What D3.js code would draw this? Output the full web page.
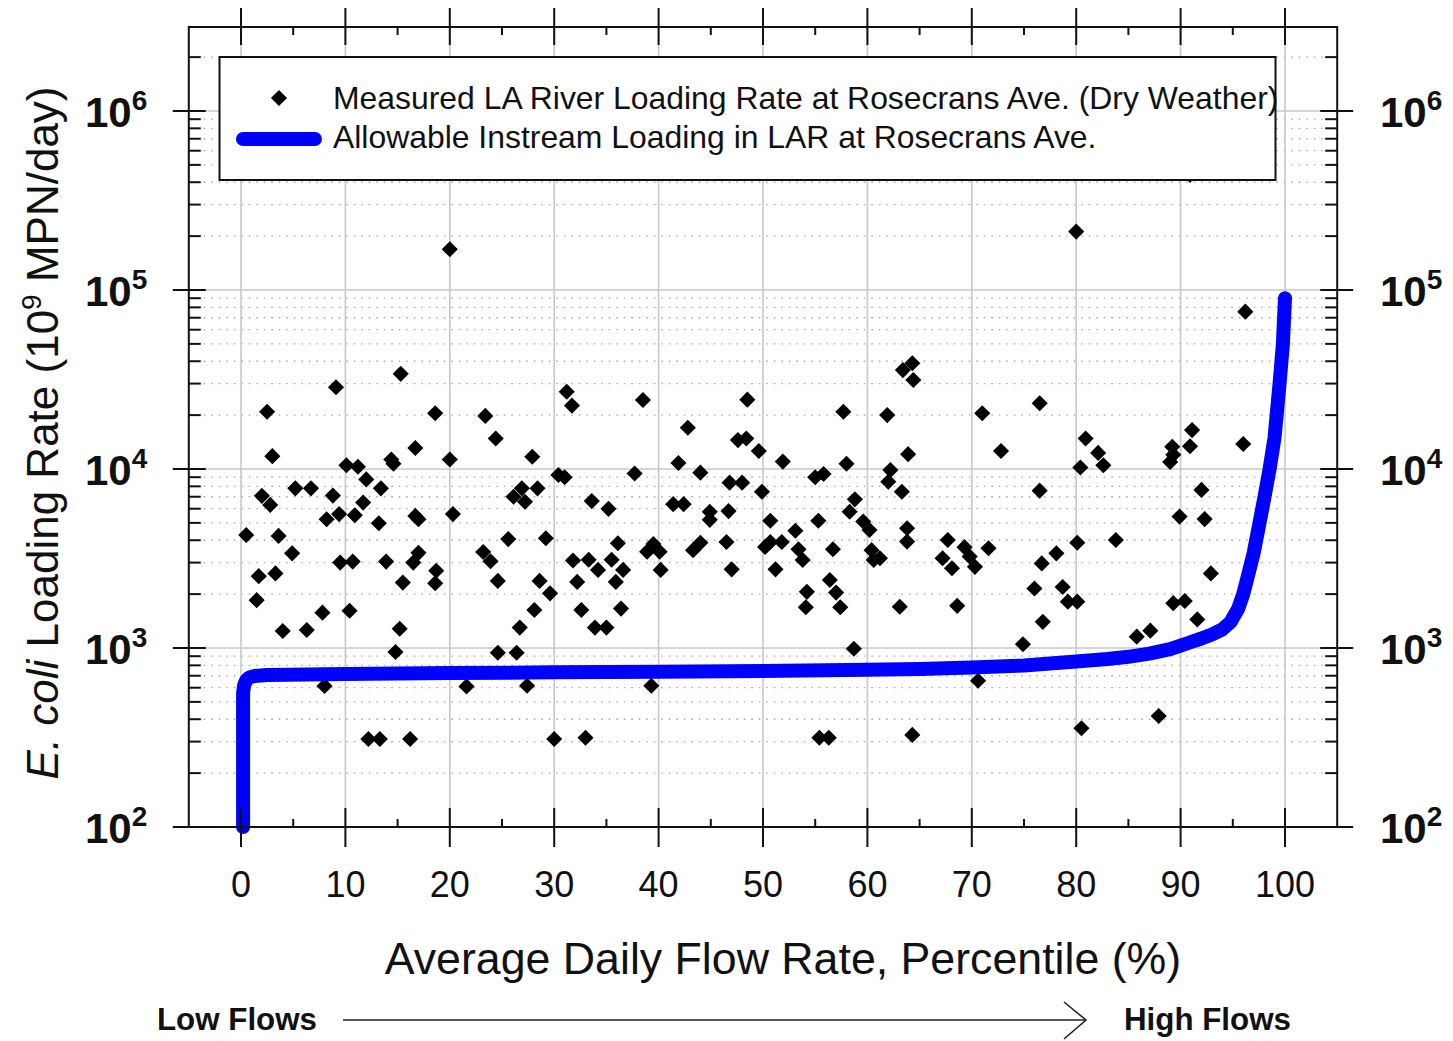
<!DOCTYPE html>
<html><head><meta charset="utf-8">
<script src="https://cdn.jsdelivr.net/npm/d3@7"></script>
<style>
body{margin:0;background:#fff}
svg{display:block}
text{font-family:"Liberation Sans",Arial,Helvetica,sans-serif;fill:#111}
</style>
</head><body>
<svg id="chart" width="1453" height="1041"></svg>
<script>
// ---------------- data ----------------
const xTickValues = [0,10,20,30,40,50,60,70,80,90,100];
const xMinorTicks = [5,15,25,35,45,55,65,75,85,95];
const yDecadeExponents = [2,3,4,5,6];

const legendLabels = [
  "Measured LA River Loading Rate at Rosecrans Ave. (Dry Weather)",
  "Allowable Instream Loading in LAR at Rosecrans Ave."
];

// measured loading (percentile, 10^9 MPN/day)
const measuredPct = [
  0.5,1.5,1.7,2.0,2.5,2.8,3.0,3.3,3.6,4.0,4.9,5.2,6.3,6.7,7.8,8.2,8.8,9.1,9.4,9.5,
  10.1,10.4,10.7,10.9,11.2,11.7,12.0,13.2,13.4,13.9,14.4,14.6,15.2,15.3,15.5,16.5,16.7,16.7,17.0,17.0,
  18.6,18.6,18.7,20.0,20.3,23.2,23.4,23.9,24.4,24.6,25.6,26.1,26.9,27.2,26.7,27.9,28.1,
  8.0,12.2,13.3,14.8,16.2,21.6,24.6,26.4,27.4,30.0,33.0,39.3,55.4,56.3,58.7,
  31.2,31.7,38.5,48.5,57.7,42.8,47.6,48.4,49.6,51.9,41.9,58.0,30.4,31.0,37.7,44.0,46.8,48.0,49.9,55.0,
  55.8,28.4,33.6,35.2,41.4,42.4,44.9,44.9,46.7,50.7,55.3,58.8,58.3,59.6,60.2,29.2,36.1,38.9,39.5,40.1,
  43.3,44.0,46.5,50.2,50.7,51.8,53.1,53.4,53.8,56.7,60.4,61.2,60.6,31.8,33.3,34.2,35.5,36.6,40.2,47.0,
  51.2,28.6,29.6,32.2,35.9,32.6,36.4,33.9,35.0,54.2,54.1,56.4,57.0,57.4,
  63.4,64.3,64.4,61.9,63.9,62.2,62.0,63.3,63.8,63.8,63.1,64.3,71.0,72.8,76.5,76.5,67.7,69.3,69.8,70.3,
  67.2,68.1,71.6,68.6,70.6,76.7,78.1,80.1,76.0,78.7,79.2,80.1,76.8,74.9,83.8,80.9,82.1,82.6,80.4,91.1,
  90.9,89.2,89.0,89.3,96.0,92.0,89.9,92.3,92.9,89.3,90.4,91.6,85.8,87.1,87.9,80.5,
  20.0,80.0,96.2,90.9
];
const measuredLoad = [
  4280,1850,2520,7080,20900,6300,11800,2610,4230,1245,3380,7800,1260,7800,1575,5240,7100,28600,5600,3000,
  10500,1615,3040,5520,10300,6490,8750,4980,7800,3040,11300,10700,1280,34000,2320,3000,13100,5470,5240,3400,
  20500,2300,2700,11300,5600,3440,19800,3050,14800,2370,4060,7000,7800,6560,1300,11700,1630,
  614,310,310,950,310,610,940,940,615,310,315,615,315,315,990,
  27000,22600,24300,24400,20900,17000,14500,14800,12600,11000,10800,10700,9250,8990,9440,9540,8390,8390,7460,8990,
  9380,7800,6620,5990,6360,6360,5770,5200,5820,5140,5140,6770,5770,5090,4560,4100,3850,3450,3810,3450,
  3520,3870,3910,3670,3910,3910,4520,3560,3100,3560,3520,3170,3100,3080,3110,2730,3110,2730,2730,2750,
  2750,2370,2020,2340,2340,1630,1660,1300,1300,2060,1690,2400,2040,1690,
  35700,39000,31400,20000,12100,9860,8490,7460,4670,3930,1700,327,20500,12600,23300,7570,4010,3660,3240,2840,
  3170,2790,3610,1720,656,2970,3380,3870,2150,2190,1815,1815,1400,1050,4010,14800,12300,10500,10200,16500,
  13400,13300,10950,12000,13800,7640,5420,5250,2610,1780,1830,1445,1157,1250,417,356,
  169000,212000,75700,440000
];

// allowable instream loading curve
const allowPct = [0.2,0.2,0.3,0.5,0.8,1.3,2.5,10,20,30,40,50,60,65,70,75,80,83,85,87,89,90,91,92,93,94,94.8,95.5,96,96.5,97,97.5,98,98.5,99,99.5,99.8,100];
const allowLoad = [100,560,620,660,685,698,706,716,724,731,737,745,755,763,777,798,840,868,893,930,985,1030,1080,1130,1190,1270,1400,1650,2000,2600,3400,4800,6800,9800,15000,31000,50000,90000];

// ---------------- drawing ----------------
const svg = d3.select("#chart");
const x = d3.scaleLinear().domain([-5, 105]).range([188.8, 1337.2]);
const y = d3.scaleLog().domain([100, Math.pow(10, 2 + 800/179)]).range([827, 27]);
const L = x.range()[0], R = x.range()[1], T = y.range()[1], B = y.range()[0];

const g = svg.append("g");

// minor dotted horizontal grid
const minorVals = [];
yDecadeExponents.forEach(e => { for (let m = 2; m <= 9; m++) { const v = m * Math.pow(10, e); if (v < y.domain()[1]) minorVals.push(v); } });
g.selectAll("line.hmin").data(minorVals).enter().append("line")
  .attr("x1", L).attr("x2", R).attr("y1", d => y(d)).attr("y2", d => y(d))
  .attr("stroke", "#a8a8a8").attr("stroke-width", 1.3).attr("stroke-dasharray", "1.5,6");

// major grid
g.selectAll("line.vgrid").data(xTickValues).enter().append("line")
  .attr("x1", d => x(d)).attr("x2", d => x(d)).attr("y1", T).attr("y2", B)
  .attr("stroke", "#c8c8c8").attr("stroke-width", 1.6);
const decadeVals = yDecadeExponents.map(e => Math.pow(10, e));
g.selectAll("line.hgrid").data(decadeVals.slice(1)).enter().append("line")
  .attr("x1", L).attr("x2", R).attr("y1", d => y(d)).attr("y2", d => y(d))
  .attr("stroke", "#c8c8c8").attr("stroke-width", 1.6);

// measured points (diamonds)
const diamond = d3.symbol().type(d3.symbolSquare).size(130);
const pts = measuredPct.map((p, i) => ({p, v: measuredLoad[i]}));
g.selectAll("path.pt").data(pts).enter().append("path")
  .attr("d", diamond)
  .attr("transform", d => `translate(${x(d.p)},${y(d.v)}) rotate(45)`)
  .attr("fill", "#000");

// allowable curve
const curve = allowPct.map((p, i) => ({p, v: allowLoad[i]}));
g.append("path").datum(curve)
  .attr("d", d3.line().x(d => x(d.p)).y(d => y(d.v)).curve(d3.curveLinear))
  .attr("fill", "none").attr("stroke", "#0000ff").attr("stroke-width", 14)
  .attr("stroke-linecap", "round").attr("stroke-linejoin", "round");

// frame
g.append("rect").attr("x", L).attr("y", T).attr("width", R - L).attr("height", B - T)
  .attr("fill", "none").attr("stroke", "#111").attr("stroke-width", 2);

// y ticks
const ax = g.append("g").attr("stroke", "#111").attr("stroke-width", 2);
decadeVals.forEach(v => {
  ax.append("line").attr("x1", L - 16).attr("x2", L + 17).attr("y1", y(v)).attr("y2", y(v));
  ax.append("line").attr("x1", R - 17).attr("x2", R + 16).attr("y1", y(v)).attr("y2", y(v));
});
minorVals.forEach(v => {
  ax.append("line").attr("x1", L).attr("x2", L + 12).attr("y1", y(v)).attr("y2", y(v));
  ax.append("line").attr("x1", R - 12).attr("x2", R).attr("y1", y(v)).attr("y2", y(v));
});
// x ticks
xTickValues.forEach(t => {
  ax.append("line").attr("x1", x(t)).attr("x2", x(t)).attr("y1", B - 19).attr("y2", B + 20);
  ax.append("line").attr("x1", x(t)).attr("x2", x(t)).attr("y1", T - 19).attr("y2", T + 18);
});
xMinorTicks.forEach(t => {
  ax.append("line").attr("x1", x(t)).attr("x2", x(t)).attr("y1", B - 8).attr("y2", B);
  ax.append("line").attr("x1", x(t)).attr("x2", x(t)).attr("y1", T).attr("y2", T + 8);
});

// x tick labels
g.selectAll("text.xt").data(xTickValues).enter().append("text")
  .attr("x", d => x(d)).attr("y", 897).attr("text-anchor", "middle")
  .attr("font-size", 36).text(d => d);

// y tick labels (both sides)
[[85], [1380]].forEach(([lx]) => {
  yDecadeExponents.forEach(e => {
    const t = g.append("text").attr("x", lx).attr("y", y(Math.pow(10, e)) + 16)
      .attr("font-size", 42).attr("font-weight", "bold");
    t.append("tspan").text("10");
    t.append("tspan").attr("dy", -17).attr("font-size", 28).attr("font-weight", "bold").text(e);
  });
});

// axis titles
g.append("text").attr("x", 783).attr("y", 974).attr("text-anchor", "middle")
  .attr("font-size", 44.7).text("Average Daily Flow Rate, Percentile (%)");

const yt = g.append("text").attr("transform", "translate(58,433) rotate(-90)")
  .attr("text-anchor", "middle").attr("font-size", 44);
yt.append("tspan").attr("font-style", "italic").text("E. coli");
yt.append("tspan").text(" Loading Rate (10");
yt.append("tspan").attr("dy", -17).attr("font-size", 28).text("9");
yt.append("tspan").attr("dy", 17).text(" MPN/day)");

// legend
const lg = g.append("g");
lg.append("rect").attr("x", 219.5).attr("y", 57).attr("width", 1056).attr("height", 123)
  .attr("fill", "#fff").attr("stroke", "#111").attr("stroke-width", 2);
lg.append("path").attr("d", diamond).attr("transform", "translate(279,98) rotate(45)").attr("fill", "#000");
lg.append("line").attr("x1", 243).attr("x2", 315).attr("y1", 139).attr("y2", 139)
  .attr("stroke", "#0000ff").attr("stroke-width", 14).attr("stroke-linecap", "round");
lg.selectAll("text").data(legendLabels).enter().append("text")
  .attr("x", 333).attr("y", (d, i) => 109 + i * 39).attr("font-size", 31.9).text(d => d);

// low / high flows arrow
g.append("text").attr("x", 157).attr("y", 1030).attr("font-size", 31.3).attr("font-weight", "bold").text("Low Flows");
g.append("text").attr("x", 1124).attr("y", 1030).attr("font-size", 31.3).attr("font-weight", "bold").text("High Flows");
g.append("line").attr("x1", 343).attr("x2", 1085).attr("y1", 1020).attr("y2", 1020)
  .attr("stroke", "#222").attr("stroke-width", 1.6);
g.append("polyline").attr("points", "1064,1002 1086,1020 1064,1039")
  .attr("fill", "none").attr("stroke", "#222").attr("stroke-width", 1.6);
</script>
</body></html>
